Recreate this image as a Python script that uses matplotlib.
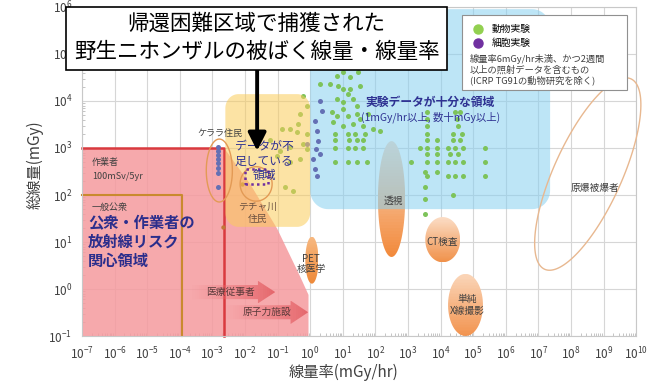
import numpy as np
import matplotlib
matplotlib.use('Agg')
import matplotlib.pyplot as plt
import matplotlib.ticker as mticker
from matplotlib.patches import Polygon, Rectangle
from matplotlib.lines import Line2D
from matplotlib.colors import to_rgba

plt.rcParams['font.family'] = ['Noto Sans CJK JP', 'DejaVu Sans']
plt.rcParams['mathtext.fontset'] = 'custom'
plt.rcParams['mathtext.rm'] = 'Liberation Sans'
plt.rcParams['mathtext.it'] = 'Liberation Sans:italic'
plt.rcParams['mathtext.bf'] = 'Liberation Sans:bold'

# ---- data: dose rate (mGy/hr) and total dose (mGy) ----
# animal experiments
animal_rate = [10, 30, 6.7, 17, 4.1, 7.2, 34, 2.0, 10, 17, 14, 21, 6.7, 10, 10, 28, 4.7, 6.7, 14, 28,
               34, 60, 5.1, 10, 21, 42, 85, 140,
               3900, 3900, 3900, 28000, 40000, 31000, 35000,
               5.8, 14, 24, 49, 3900, 24000, 46000,
               5.8, 15, 28, 42, 3900, 7900, 24000, 40000,
               5.8, 14, 24, 42, 2400, 3900, 7900, 17000, 28000, 49000, 230000,
               3900, 7900, 20000, 35000,
               5.8, 14, 28, 56, 1200, 3900, 7900, 17000, 28000, 49000, 230000,
               3400, 7900,
               3900, 17000, 28000, 49000, 230000,
               3400, 24000, 3400, 3400,
               0.61, 0.81, 0.49, 0.43, 0.24, 0.14, 0.40, 0.81, 0.61, 0.24, 0.12, 0.49, 0.81,
               0.097, 0.24, 0.17, 0.30, 0.059]
animal_dose = [41000, 41000, 34000, 32000, 23000, 21000, 21000, 23000, 18000, 18000, 14000, 11000,
               11000, 9500, 6700, 7800, 5800, 4800, 4800, 5300, 4100, 5300, 3600, 2900, 3200, 2900,
               2500, 2300,
               5800, 4100, 2900, 5800, 5800, 4100, 2900,
               2000, 2000, 2000, 2000, 2000, 2000, 2000,
               1500, 1500, 1500, 1500, 1500, 1500, 1500, 1500,
               1000, 1000, 1000, 1000, 1000, 1000, 1000, 1000, 1000, 1000, 1000,
               740, 740, 740, 740,
               500, 500, 500, 500, 500, 500, 500, 500, 500, 500, 500,
               310, 310,
               250, 250, 250, 250, 250,
               150, 100, 82, 40,
               13000, 7800, 5300, 3200, 2500, 2500, 2200, 2000, 1200, 1050, 860, 580, 950,
               670, 500, 150, 120, 1500]

# cell experiments (Kerala residents column + high dose-rate group)
cell_rate = [1.5e-3] * 8 + [2.0, 2.3, 1.4, 1.6, 1.8, 1.5, 2.0, 1.2, 1.4, 1.6, 0.81]
cell_dose = [1050, 860, 710, 580, 480, 370, 290, 150,
             10000, 6100, 3700, 2300, 1400, 950, 740, 580, 360, 250, 1200]

# Techa river residents
techa_rate = [8.2e-3, 2.1e-3]
techa_dose = [170, 21]

# dose limits: workers 100mSv/5yr, public 1mSv/yr
worker_rate, worker_dose = 2.28e-3, 1000
public_rate, public_dose = 1.14e-4, 100

# region outlines (rate, dose)
pink_rate = [1e-7, 1e-7, 2.28e-3, 1.45e-2, 9.8e-2, 0.5, 0.89, 0.89]
pink_dose = [0.1, 1000, 1000, 170, 19, 1.8, 0.75, 0.1]
blue_rate, blue_dose = (1.0, 2.3e7), (50, 9e5)
yellow_rate, yellow_dose = (2.5e-3, 1.0), (21, 14000)

kerala_rate, kerala_dose = (6.5e-4, 4.1e-3), (71, 1550)
techa_rate_rng, techa_dose_rng = (7.1e-3, 0.068), (74, 400)
fluoro_rate, fluoro_dose = (120, 820), (4.8, 1400)
ct_rate, ct_dose = (3400, 40000), (3.7, 34)
xray_rate, xray_dose = (17000, 200000), (0.1, 2.1)
pet_rate, pet_dose = (0.71, 1.8), (1.3, 13)
abomb_ends = [(1.2e7, 3.0), (9e9, 26000)]

navy = '#2E3192'
grey_txt = '#404040'


def ellipse_verts(xr, yr, n=120):
    lx, ly = np.log10(xr), np.log10(yr)
    cx, cy = lx.mean(), ly.mean()
    a, b = (lx[1] - lx[0]) / 2, (ly[1] - ly[0]) / 2
    t = np.linspace(0, 2 * np.pi, n)
    return 10 ** np.column_stack([cx + a * np.cos(t), cy + b * np.sin(t)])


def tilted_ellipse_verts(p0, p1, half_w, n=160):
    q0, q1 = np.log10(p0), np.log10(p1)
    c = (q0 + q1) / 2
    major = (q1 - q0) / 2
    minor = np.array([-major[1], major[0]]) / np.hypot(*major) * half_w
    t = np.linspace(0, 2 * np.pi, n)[:, None]
    return 10 ** (c + np.cos(t) * major + np.sin(t) * minor)


def rounded_box_verts(xr, yr, rx, ry, n=16):
    x0, x1 = np.log10(xr)
    y0, y1 = np.log10(yr)
    pts = []
    for cx, cy, a0 in [(x1 - rx, y1 - ry, 0), (x0 + rx, y1 - ry, 90),
                       (x0 + rx, y0 + ry, 180), (x1 - rx, y0 + ry, 270)]:
        t = np.radians(np.linspace(a0, a0 + 90, n))
        pts += list(zip(cx + rx * np.cos(t), cy + ry * np.sin(t)))
    return 10 ** np.array(pts)


def block_arrow_verts(x_tail, x_neck, x_tip, y_mid, body, head):
    lt, ln, lp, ly = np.log10([x_tail, x_neck, x_tip, y_mid])
    pts = [(lt, ly - body), (ln, ly - body), (ln, ly - head), (lp, ly),
           (ln, ly + head), (ln, ly + body), (lt, ly + body)]
    return 10 ** np.array(pts)


def gradient_fill(ax, verts, c_start, c_end, axis='y', n=40, zorder=1):
    clip = Polygon(verts, closed=True, fc='none', ec='none', zorder=zorder)
    ax.add_patch(clip)
    lv = np.log10(verts)
    c0, c1 = np.array(to_rgba(c_start)), np.array(to_rgba(c_end))
    xlo, xhi = lv[:, 0].min(), lv[:, 0].max()
    ylo, yhi = lv[:, 1].min(), lv[:, 1].max()
    for i in range(n):
        f = i / (n - 1)
        col = c0 + (c1 - c0) * f
        if axis == 'y':
            # start colour at the top, end colour at the bottom
            e1 = yhi - (yhi - ylo) * i / n
            e0 = yhi - (yhi - ylo) * (i + 1) / n
            r = Rectangle((10 ** xlo, 10 ** e0), 10 ** xhi - 10 ** xlo, 10 ** e1 - 10 ** e0)
        else:
            e0 = xlo + (xhi - xlo) * i / n
            e1 = xlo + (xhi - xlo) * (i + 1) / n
            r = Rectangle((10 ** e0, 10 ** ylo), 10 ** e1 - 10 ** e0, 10 ** yhi - 10 ** ylo)
        r.set_facecolor(col)
        r.set_edgecolor('none')
        r.set_zorder(zorder)
        ax.add_patch(r)
        r.set_clip_path(clip)


fig = plt.figure(figsize=(6.64, 3.82), dpi=100)
ax = fig.add_axes([0.1235, 0.1204, 0.958 - 0.1235, 0.9817 - 0.1204])
ax.set_xscale('log')
ax.set_yscale('log')
ax.set_xticks(10.0 ** np.arange(-7, 11))
ax.set_yticks(10.0 ** np.arange(-1, 7))
ax.xaxis.set_minor_locator(mticker.LogLocator(base=10, subs=np.arange(2, 10), numticks=40))
ax.yaxis.set_minor_locator(mticker.LogLocator(base=10, subs=np.arange(2, 10), numticks=40))
ax.xaxis.set_minor_formatter(mticker.NullFormatter())
ax.yaxis.set_minor_formatter(mticker.NullFormatter())
ax.set_xlim(1e-7, 1e10)
ax.set_ylim(0.1, 1e6)
ax.tick_params(which='both', direction='in', color='#BBBBBB', labelcolor=grey_txt, labelsize=8.5)
ax.tick_params(which='major', length=0, pad=7)
ax.tick_params(which='minor', length=2.5, width=0.6)
ax.grid(which='major', color='#D6D6D6', lw=0.8)
ax.set_axisbelow(True)
for s in ax.spines.values():
    s.set_color('#C8C8C8')
    s.set_linewidth(0.8)

# public / worker concern region
ax.fill(pink_rate, pink_dose, color='#F59A9E', alpha=0.85, lw=0, zorder=1)
ax.plot([1e-7, worker_rate, worker_rate], [worker_dose, worker_dose, 0.1],
        color='#D93A3F', lw=1.8, zorder=1.6, clip_on=False)
ax.plot([1e-7, public_rate, public_rate], [public_dose, public_dose, 0.1],
        color='#C98A2E', lw=1.5, zorder=1.6, clip_on=False)

# medical exposures
gradient_fill(ax, ellipse_verts(fluoro_rate, fluoro_dose), '#F8D8C0', '#F28A3C', zorder=1.2)
gradient_fill(ax, ellipse_verts(ct_rate, ct_dose), '#FBDCC4', '#F0914A', zorder=1.2)
gradient_fill(ax, ellipse_verts(xray_rate, xray_dose), '#FAD5B8', '#F29450', zorder=1.2)
gradient_fill(ax, ellipse_verts(pet_rate, pet_dose), '#F7B880', '#EE8A3A', zorder=1.2)

# sufficient-data region
ax.add_patch(Polygon(rounded_box_verts(blue_rate, blue_dose, 0.55, 0.4), closed=True,
                     fc='#87D0F0', ec='none', alpha=0.55, zorder=2))

ax.scatter(animal_rate, animal_dose, s=13, color='#7DC35A', lw=0, zorder=3)
ax.scatter(cell_rate, cell_dose, s=13, color='#6470B4', lw=0, zorder=3)
ax.scatter(techa_rate, techa_dose, s=10, color='#C07838', lw=0, zorder=3)

# insufficient-data region
ax.add_patch(Polygon(rounded_box_verts(yellow_rate, yellow_dose, 0.4, 0.3), closed=True,
                     fc='#FACC5A', ec='none', alpha=0.55, zorder=3.5))

# resident groups and A-bomb survivors
for verts in [ellipse_verts(kerala_rate, kerala_dose), ellipse_verts(techa_rate_rng, techa_dose_rng)]:
    ax.add_patch(Polygon(verts, closed=True, fc='none', ec='#E39A55', lw=1.0, zorder=4))
ax.add_patch(Polygon(tilted_ellipse_verts(*abomb_ends, 0.95), closed=True, fc='none',
                     ec='#E8B890', lw=1.0, zorder=4, clip_on=False))
ax.add_patch(Rectangle((0.010, 170), 0.051 - 0.010, 360 - 170, fc='none', ec='#7030A0',
                       lw=1.8, ls=(0, (1, 1.3)), zorder=4.5))

# occupational arrows
gradient_fill(ax, block_arrow_verts(2.1e-4, 0.025, 0.085, 0.86, 0.15, 0.24),
              (0.93, 0.45, 0.47, 0.0), (0.89, 0.38, 0.40, 0.9), axis='x', zorder=4)
gradient_fill(ax, block_arrow_verts(2.3e-3, 0.25, 0.87, 0.32, 0.15, 0.25),
              (0.93, 0.45, 0.47, 0.0), (0.89, 0.38, 0.40, 0.9), axis='x', zorder=4)

# labels inside the plot
tk = dict(zorder=5, ha='center', va='center')
ax.text(1.7e-3, 2000, 'ケララ住民', fontsize=6.5, color=grey_txt, **tk)
ax.text(0.039, 530, 'データが不\n足している\n領域', fontsize=8.5, color=navy, linespacing=1.1, **tk)
ax.text(0.024, 41, 'テチャ川\n住民', fontsize=7, color='#6B5040', linespacing=1.2, **tk)
ax.text(3.5e-3, 0.86, '医療従事者', fontsize=7, color='#5A3A3A', **tk)
ax.text(0.048, 0.32, '原子力施設', fontsize=7, color='#5A3A3A', **tk)
ax.text(1.07, 3.4, 'PET\n核医学', fontsize=7, color=grey_txt, linespacing=1.1, **tk)
ax.text(350, 75, '透視', fontsize=7, color=grey_txt, **tk)
ax.text(11000, 10, 'CT検査', fontsize=7, color=grey_txt, **tk)
ax.text(66000, 0.46, '単純\nX線撮影', fontsize=7, color=grey_txt, linespacing=1.2, **tk)
ax.text(5.5e8, 140, '原爆被爆者', fontsize=7, color=grey_txt, **tk)
ax.text(4800, 9500, '実験データが十分な領域', fontsize=8.5, color=navy, fontweight='bold', **tk)
ax.text(4800, 4600, '(1mGy/hr以上, 数十mGy以上)', fontsize=7.5, color=navy, **tk)

tl = dict(zorder=5, ha='left', va='center', color=grey_txt, fontsize=6.5)
ax.text(2.0e-7, 500, '作業者', **tl)
ax.text(2.0e-7, 250, '100mSv/5yr', **tl)
ax.text(2.0e-7, 53, '一般公衆', **tl)
ax.text(1.55e-7, 10, '公衆・作業者の\n放射線リスク\n関心領域', fontsize=11, fontweight='bold',
        color='#2B2E8C', ha='left', va='center', linespacing=1.25, zorder=5.5)

# title box and pointer
ax.add_patch(Rectangle((-0.029, 0.8085), 0.688, 0.1915, transform=ax.transAxes, fc='white',
                       ec='black', lw=1.2, zorder=10, clip_on=False))
ax.text(0.315, 0.948, '帰還困難区域で捕獲された', transform=ax.transAxes, fontsize=15.5,
        ha='center', va='center', zorder=11)
ax.text(0.315, 0.863, '野生ニホンザルの被ばく線量・線量率', transform=ax.transAxes, fontsize=15.5,
        ha='center', va='center', zorder=11)
ax.annotate('', xy=(0.0236, 870), xytext=(0.0236, 4.8e4),
            arrowprops=dict(arrowstyle='-|>,head_length=0.9,head_width=0.45', color='black',
                            lw=2.8, mutation_scale=12, shrinkA=0, shrinkB=0), zorder=9)

# legend
ax.add_patch(Rectangle((0.686, 0.748), 0.298, 0.228, transform=ax.transAxes, fc='white',
                       ec='#909090', lw=0.8, zorder=10))
handles = [Line2D([], [], ls='', marker='o', ms=6.5, color='#92D050'),
           Line2D([], [], ls='', marker='o', ms=6.5, color='#7030A0')]
leg = ax.legend(handles, ['動物実験', '細胞実験'], loc='upper left', bbox_to_anchor=(0.69, 0.972),
                frameon=False, fontsize=7, handletextpad=0.8, labelspacing=0.45, borderpad=0.3,
                handlelength=1.2)
leg.set_zorder(11)
ax.text(0.700, 0.809, '線量率6mGy/hr未満、かつ2週間\n以上の照射データを含むもの\n(ICRP TG91の動物研究を除く)',
        transform=ax.transAxes, fontsize=6.7, color=grey_txt, ha='left', va='center',
        linespacing=1.15, zorder=11)

ax.set_xlabel('線量率(mGy/hr)', fontsize=11, color=grey_txt)
ax.set_ylabel('総線量(mGy)', fontsize=11, color=grey_txt)
ax.xaxis.set_label_coords(0.471, -0.085)
ax.yaxis.set_label_coords(-0.070, 0.52)

fig.savefig('out.png', dpi=100)
